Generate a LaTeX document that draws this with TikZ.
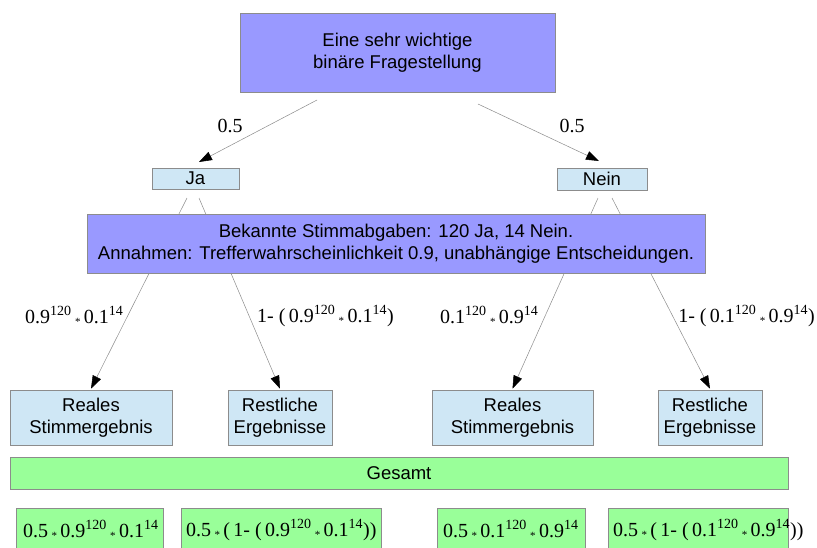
\documentclass[tikz,border=0pt]{standalone}
\usepackage{fontspec}
\setmainfont{Liberation Sans}
\newfontfamily\serf{Liberation Serif}
\usetikzlibrary{arrows.meta,calc}
\definecolor{purp}{HTML}{9999FF}
\definecolor{lblue}{HTML}{CFE7F5}
\definecolor{lgreen}{HTML}{99FF99}
\definecolor{bord}{HTML}{8C8C8C}
\definecolor{connc}{HTML}{8C8C8C}
\newcommand{\mst}{\,\raisebox{-0.2ex}{\fontsize{11}{11}\selectfont *}\,}
\newcommand{\spr}[1]{\textsuperscript{#1}}
\tikzset{
  boxbase/.style={draw=bord, line width=0.6pt, inner sep=0pt, align=center, font=\fontsize{18.5}{22}\selectfont},
  purpbox/.style={boxbase, fill=purp},
  bluebox/.style={boxbase, fill=lblue},
  greenbox/.style={boxbase, fill=lgreen},
  connector/.style={draw=connc, line width=0.5pt, -{Triangle[length=13pt,width=9pt,color=black]}},
  lab/.style={font=\serf\fontsize{20}{22}\selectfont, inner sep=0pt}
}
\begin{document}
\begin{tikzpicture}[x=1pt,y=-1pt]
\clip (0,0) rectangle (817,547);
\fill[white] (0,0) rectangle (817,547);

% top box
\node[purpbox, minimum width=315pt, minimum height=79pt] (top) at (397.5,52.5) {Eine sehr wichtige\\binäre Fragestellung};
\node[bluebox, minimum width=87pt, minimum height=21pt] (ja) at (195.5,178.5) {Ja};
\node[bluebox, minimum width=90pt, minimum height=22pt] (nein) at (602,179) {Nein};

\coordinate (t1) at (317,100);
\coordinate (t2) at (478,104);
\coordinate (jain) at (199,162);
\coordinate (neinin) at (599,161);
\draw[connector] (t1) -- (jain);
\draw[connector] (t2) -- (neinin);
\node[lab] (p1) at (230,126) {0.5};
\node[lab] (p2) at (572,126) {0.5};

% result boxes
\node[bluebox, minimum width=162pt, minimum height=55pt] (r1) at (91,417.5) {Reales\\Stimmergebnis};
\node[bluebox, minimum width=104pt, minimum height=55pt] (s1) at (280,417.5) {Restliche\\Ergebnisse};
\node[bluebox, minimum width=161pt, minimum height=55pt] (r2) at (512.5,417.5) {Reales\\Stimmergebnis};
\node[bluebox, minimum width=104pt, minimum height=55pt] (s2) at (710,417.5) {Restliche\\Ergebnisse};

% lines from Ja / Nein
\coordinate (ja1) at (187,198);
\coordinate (ja2) at (199,198);
\coordinate (ne1) at (598,198);
\coordinate (ne2) at (612,198);
\draw[connector] (ja1) -- ($(r1.north)+(0,-1)$);
\draw[connector] (ja2) -- ($(s1.north)+(0,-1)$);
\draw[connector] (ne1) -- ($(r2.north)+(0,-1)$);
\draw[connector] (ne2) -- ($(s2.north)+(0,-1)$);

% info box
\node[purpbox, minimum width=618pt, minimum height=59pt] (info) at (396,243.5) {Bekannte Stimmabgaben: 120 Ja, 14 Nein.\\Annahmen: Trefferwahrscheinlichkeit 0.9, unabhängige Entscheidungen.};

% branch labels
\node[lab, anchor=west] (l1) at (25,316) {0.9\spr{120}\mst 0.1\spr{14}};
\node[lab, anchor=west] (l2) at (257,316) {1- (\,0.9\spr{120}\mst 0.1\spr{14})};
\node[lab, anchor=west] (l3) at (440,316) {0.1\spr{120}\mst 0.9\spr{14}};
\node[lab, anchor=east] (l4) at (815,316) {1- (\,0.1\spr{120}\mst 0.9\spr{14})};

% Gesamt
\node[greenbox, minimum width=778pt, minimum height=32pt] (ges) at (399,473) {Gesamt};

% bottom boxes
\draw[draw=bord, line width=0.6pt, fill=lgreen] (16,508) rectangle (163,560);
\draw[draw=bord, line width=0.6pt, fill=lgreen] (181,508) rectangle (381,560);
\draw[draw=bord, line width=0.6pt, fill=lgreen] (437,508) rectangle (585,560);
\draw[draw=bord, line width=0.6pt, fill=lgreen] (608,508) rectangle (788,560);
\node[lab, anchor=west] (b1) at (23,530) {0.5\mst 0.9\spr{120}\mst 0.1\spr{14}};
\node[lab, anchor=west] (b2) at (186,530) {0.5\mst (\,1- (\,0.9\spr{120}\mst 0.1\spr{14}))};
\node[lab, anchor=west] (b3) at (443,530) {0.5\mst 0.1\spr{120}\mst 0.9\spr{14}};
\node[lab, anchor=west] (b4) at (613,530) {0.5\mst (\,1- (\,0.1\spr{120}\mst 0.9\spr{14}))};
\end{tikzpicture}
\end{document}
